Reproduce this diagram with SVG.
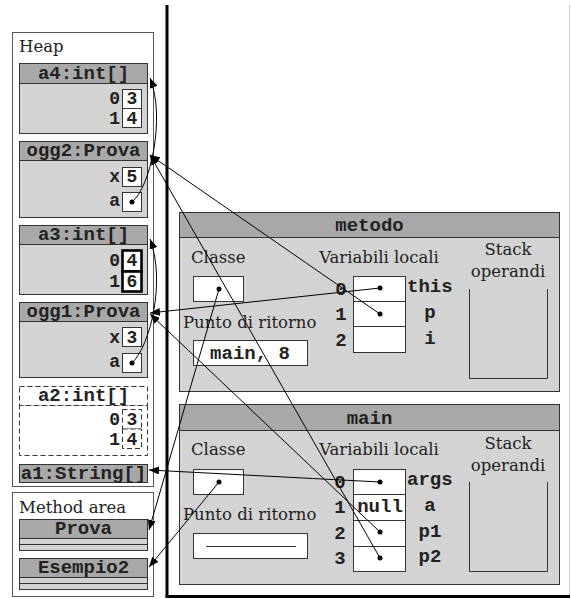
<svg xmlns="http://www.w3.org/2000/svg" width="571" height="599" viewBox="0 0 571 599">
<style>
.serif{font-family:"DejaVu Serif",serif;font-size:16.5px;fill:#222}
.mono{font-family:"Liberation Mono",monospace;font-weight:bold;font-size:19px;fill:#222}
.num{font-size:18px}
.mid{text-anchor:middle}
.end{text-anchor:end}
.hdr{fill:#a8a8a8;stroke:#333;stroke-width:1}
.body{fill:#d3d3d3;stroke:#333;stroke-width:1}
.cell{fill:#fff;stroke:#333;stroke-width:1}
.thick{fill:#fff;stroke:#000;stroke-width:2.6}
.dash{fill:#fff;stroke:#333;stroke-width:1;stroke-dasharray:5,3}
.bar{fill:#d3d3d3;stroke:#333;stroke-width:1}
.box{fill:#fff;stroke:#555;stroke-width:1}
.conn{fill:none;stroke:#000;stroke-width:1;marker-end:url(#arr)}
.dot{fill:#000}
</style>
<defs>
<marker id="arr" markerWidth="11" markerHeight="8" refX="10" refY="4" orient="auto" markerUnits="userSpaceOnUse">
<path d="M0,0 L10,4 L0,8 Z" fill="#000"/>
</marker>
</defs>

<g id="stack-area">
<line x1="569.5" y1="5" x2="569.5" y2="597" stroke="#ccc" stroke-width="1"/>
<line x1="167" y1="5" x2="167" y2="597" stroke="#000" stroke-width="3"/>
<line x1="165.5" y1="596.5" x2="570" y2="596.5" stroke="#000" stroke-width="3"/>
</g>

<g id="heap">
<rect class="box" x="12.5" y="32.5" width="141" height="454"/>
<text class="serif" x="19" y="52">Heap</text>
</g>

<g id="a4">
<rect class="body" x="19.5" y="83.5" width="128" height="50"/>
<rect class="hdr" x="19.5" y="63.5" width="128" height="20"/>
<text class="mono mid" x="83.5" y="79">a4:int[]</text>
<rect class="cell" x="122.5" y="89.5" width="19" height="19"/>
<rect class="cell" x="122.5" y="108.5" width="19" height="19"/>
<text class="mono num end" x="120" y="104">0</text>
<text class="mono num mid" x="132" y="104">3</text>
<text class="mono num end" x="120" y="124">1</text>
<text class="mono num mid" x="132" y="124">4</text>
</g>

<g id="ogg2">
<rect class="body" x="19.5" y="160.5" width="128" height="57"/>
<rect class="hdr" x="19.5" y="141.5" width="128" height="19"/>
<text class="mono mid" x="83.5" y="156">ogg2:Prova</text>
<rect class="cell" x="122.5" y="167.5" width="19" height="19"/>
<text class="mono num end" x="120" y="182">x</text>
<text class="mono num mid" x="132" y="182">5</text>
<rect class="cell" x="122.5" y="192.5" width="19" height="19"/>
<text class="mono num end" x="120" y="206">a</text>
</g>

<g id="a3">
<rect class="body" x="19.5" y="244.5" width="128" height="50"/>
<rect class="hdr" x="19.5" y="225.5" width="128" height="19"/>
<text class="mono mid" x="83.5" y="240">a3:int[]</text>
<rect class="thick" x="122.5" y="250.5" width="19" height="21"/>
<rect class="thick" x="122.5" y="271.5" width="19" height="20"/>
<text class="mono num end" x="120" y="266">0</text>
<text class="mono num mid" x="132" y="266">4</text>
<text class="mono num end" x="120" y="287">1</text>
<text class="mono num mid" x="132" y="287">6</text>
</g>

<g id="ogg1">
<rect class="body" x="19.5" y="321.5" width="128" height="56"/>
<rect class="hdr" x="19.5" y="302.5" width="128" height="19"/>
<text class="mono mid" x="83.5" y="317">ogg1:Prova</text>
<rect class="cell" x="122.5" y="327.5" width="19" height="19"/>
<text class="mono num end" x="120" y="343">x</text>
<text class="mono num mid" x="132" y="343">3</text>
<rect class="cell" x="122.5" y="353.5" width="19" height="19"/>
<text class="mono num end" x="120" y="367">a</text>
</g>

<g id="a2">
<rect class="dash" x="19.5" y="405.5" width="128" height="50"/>
<rect class="dash" x="19.5" y="386.5" width="128" height="19"/>
<text class="mono mid" x="83.5" y="401">a2:int[]</text>
<rect class="dash" x="122.5" y="409.5" width="19" height="19.5"/>
<rect class="dash" x="122.5" y="429" width="19" height="19.5"/>
<text class="mono num end" x="120" y="425">0</text>
<text class="mono num mid" x="132" y="425">3</text>
<text class="mono num end" x="120" y="445">1</text>
<text class="mono num mid" x="132" y="445">4</text>
</g>

<g id="a1">
<rect class="hdr" x="19.5" y="464.5" width="128" height="18"/>
<text class="mono mid" x="83.5" y="479">a1:String[]</text>
</g>

<g id="method-area">
<rect class="box" x="12.5" y="492.5" width="141" height="104"/>
<text class="serif" x="19" y="513">Method area</text>
</g>

<g id="Prova">
<rect class="hdr" x="19.5" y="519.5" width="128" height="19"/>
<rect class="bar" x="19.5" y="538.5" width="128" height="6"/>
<rect class="bar" x="19.5" y="544.5" width="128" height="6"/>
<text class="mono mid" x="83.5" y="534">Prova</text>
</g>

<g id="Esempio2">
<rect class="hdr" x="19.5" y="558.5" width="128" height="19"/>
<rect class="bar" x="19.5" y="577.5" width="128" height="6"/>
<rect class="bar" x="19.5" y="583.5" width="128" height="6"/>
<text class="mono mid" x="83.5" y="573">Esempio2</text>
</g>

<g id="metodo">
<rect class="body" x="179.5" y="212.5" width="380" height="179"/>
<rect class="hdr" x="179.5" y="212.5" width="380" height="25"/>
<text class="mono mid" x="369.5" y="231">metodo</text>
<text class="serif" x="191" y="263">Classe</text>
<rect class="cell" x="193.5" y="276.5" width="50" height="25"/>
<text class="serif" x="183" y="328">Punto di ritorno</text>
<rect class="cell" x="193.5" y="340.5" width="114" height="25"/>
<text class="mono mid" x="250" y="359">main, 8</text>
<text class="serif mid" x="379" y="263">Variabili locali</text>
<rect class="cell" x="353.5" y="276.5" width="52" height="25"/>
<rect class="cell" x="353.5" y="301.5" width="52" height="25"/>
<rect class="cell" x="353.5" y="326.5" width="52" height="26"/>
<text class="mono mid" x="341" y="295">0</text>
<text class="mono mid" x="341" y="320">1</text>
<text class="mono mid" x="341" y="346">2</text>
<text class="mono" x="407" y="292">this</text>
<text class="mono mid" x="430" y="318">p</text>
<text class="mono mid" x="430" y="344">i</text>
<text class="serif mid" x="508" y="255">Stack</text>
<text class="serif mid" x="508" y="277">operandi</text>
<path d="M469.5,289 V378.5 H547.5 V289" fill="none" stroke="#333" stroke-width="1"/>
</g>

<g id="main">
<rect class="body" x="179.5" y="404.5" width="380" height="180"/>
<rect class="hdr" x="179.5" y="404.5" width="380" height="26"/>
<text class="mono mid" x="369.5" y="424">main</text>
<text class="serif" x="191" y="455">Classe</text>
<rect class="cell" x="193.5" y="469.5" width="50" height="25"/>
<text class="serif" x="183" y="520">Punto di ritorno</text>
<rect class="cell" x="193.5" y="533.5" width="114" height="25"/>
<line x1="206" y1="546.5" x2="296" y2="546.5" stroke="#333" stroke-width="1"/>
<text class="serif mid" x="379" y="455">Variabili locali</text>
<rect class="cell" x="353.5" y="469.5" width="52" height="25"/>
<rect class="cell" x="353.5" y="494.5" width="52" height="26"/>
<rect class="cell" x="353.5" y="520.5" width="52" height="26"/>
<rect class="cell" x="353.5" y="546.5" width="52" height="25"/>
<text class="mono mid" x="340" y="488">0</text>
<text class="mono mid" x="340" y="513">1</text>
<text class="mono mid" x="340" y="539">2</text>
<text class="mono mid" x="340" y="564">3</text>
<text class="mono mid" x="380" y="512">null</text>
<text class="mono" x="407" y="485">args</text>
<text class="mono mid" x="430" y="511">a</text>
<text class="mono mid" x="430" y="537">p1</text>
<text class="mono mid" x="430" y="562">p2</text>
<text class="serif mid" x="508" y="449">Stack</text>
<text class="serif mid" x="508" y="471">operandi</text>
<path d="M469.5,482 V571.5 H547.5 V482" fill="none" stroke="#333" stroke-width="1"/>
</g>

<g id="connectors">
<path class="conn" d="M132,202 C150,188 166,118 150,78"/>
<path class="conn" d="M132,363 C150,346 166,282 150,239"/>
<path class="conn" d="M380,288 L150,313"/>
<path class="conn" d="M380,532 L150,314"/>
<path class="conn" d="M380,314 L150,155"/>
<path class="conn" d="M380,558 L150,155"/>
<path class="conn" d="M219,289 L149,530"/>
<path class="conn" d="M219,482 L149,567"/>
<path class="conn" d="M380,482 L149,470"/>
<circle class="dot" cx="132" cy="202" r="2.5"/>
<circle class="dot" cx="132" cy="363" r="2.5"/>
<circle class="dot" cx="380" cy="288" r="2.5"/>
<circle class="dot" cx="380" cy="314" r="2.5"/>
<circle class="dot" cx="219" cy="289" r="2.5"/>
<circle class="dot" cx="219" cy="482" r="2.5"/>
<circle class="dot" cx="380" cy="482" r="2.5"/>
<circle class="dot" cx="380" cy="532" r="2.5"/>
<circle class="dot" cx="380" cy="558" r="2.5"/>
</g>
</svg>
